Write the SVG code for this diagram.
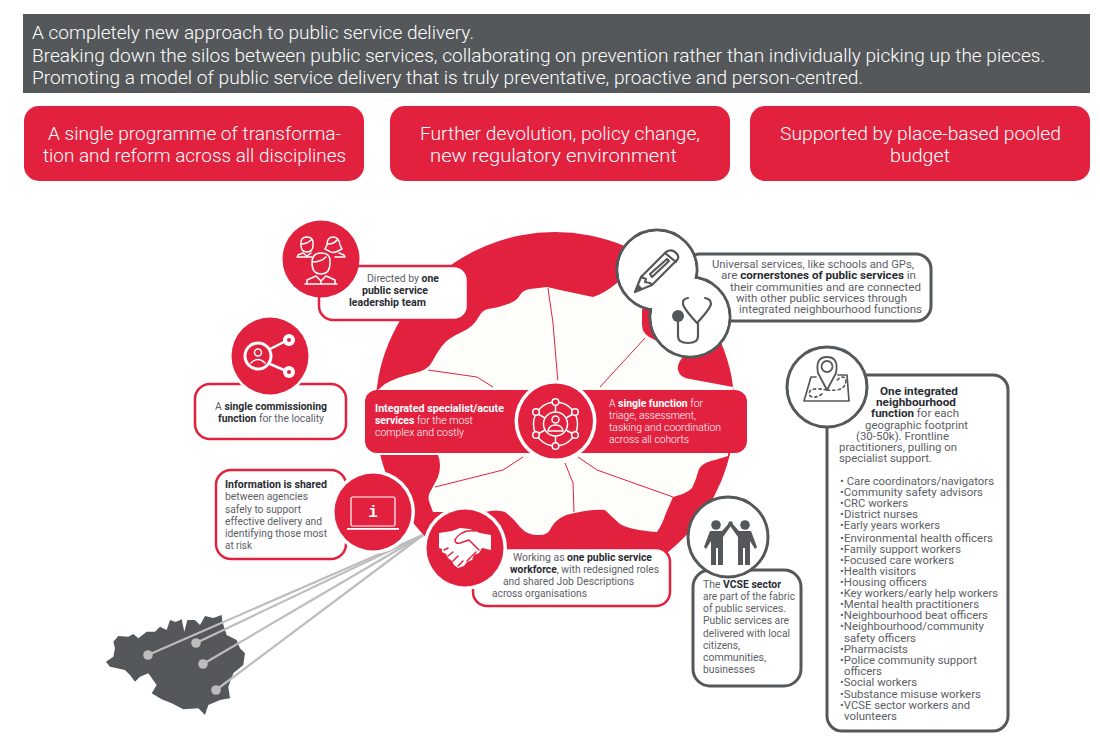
<svg xmlns="http://www.w3.org/2000/svg" width="1100" height="754" viewBox="0 0 1100 754">
<style>
text{font-family:"Roboto","Liberation Sans",sans-serif;font-weight:400;fill:#5c6066;font-size:10.5px}
.b{font-weight:700;fill:#2a2c33}
.w{fill:#fff;font-weight:300}
.wb{font-weight:700;fill:#fff}
.ban{font-size:18px;fill:#fff;font-weight:300}
.btn{font-size:19px;fill:#fff;font-weight:300}
.u{font-size:10.8px}
.m{font-size:10.5px}
.cr{fill:#fff;stroke:#e2213f;stroke-width:2.5}
.cg{fill:#fff;stroke:#54585a;stroke-width:3}
.red{fill:#e2213f}
.ic{fill:none;stroke:#fff;stroke-width:1.5;stroke-linecap:round;stroke-linejoin:round}
.ig{fill:none;stroke:#54585a;stroke-width:2.2;stroke-linecap:round;stroke-linejoin:round}
.th{fill:none;stroke:#e2213f;stroke-width:1}
.gl{stroke:#bdbdbd;stroke-width:2.2;fill:none}
</style>

<g id="banner">
<rect x="23" y="14" width="1067" height="79" fill="#54585a"/>
<text class="ban" x="32" y="39" textLength="442" lengthAdjust="spacingAndGlyphs">A completely new approach to public service delivery.</text>
<text class="ban" x="32" y="62" textLength="1013" lengthAdjust="spacingAndGlyphs">Breaking down the silos between public services, collaborating on prevention rather than individually picking up the pieces.</text>
<text class="ban" x="32" y="84" textLength="831" lengthAdjust="spacingAndGlyphs">Promoting a model of public service delivery that is truly preventative, proactive and person-centred.</text>
</g>
<g id="btn1"><rect class="red" x="24" y="106" width="340" height="75" rx="15"/>
<text class="btn" x="48" y="140" textLength="293" lengthAdjust="spacingAndGlyphs">A single programme of transforma-</text>
<text class="btn" x="43" y="162" textLength="303" lengthAdjust="spacingAndGlyphs">tion and reform across all disciplines</text></g>
<g id="btn2"><rect class="red" x="390" y="106" width="340" height="75" rx="15"/>
<text class="btn" x="420" y="140" textLength="280" lengthAdjust="spacingAndGlyphs">Further devolution, policy change,</text>
<text class="btn" x="430" y="162" textLength="247" lengthAdjust="spacingAndGlyphs">new regulatory environment</text></g>
<g id="btn3"><rect class="red" x="750" y="106" width="340" height="75" rx="15"/>
<text class="btn" x="780" y="140" textLength="281" lengthAdjust="spacingAndGlyphs">Supported by place-based pooled</text>
<text class="btn" x="890" y="162" textLength="60" lengthAdjust="spacingAndGlyphs">budget</text></g>

<g id="disc">
<circle class="red" cx="555" cy="412" r="180"/>
<path fill="#fffefb" d="M547 287 L530 289 Q523 290 520 295 Q517 301 508 304 Q497 308 488 309 Q482 310 478 318 Q473 327 462 332 Q448 338 442 346 Q436 354 432 362 Q428 370 415 373 Q397 377 385 384 L372 395 L372 455 L438 455 Q442 465 438 477 Q433 487 430 492 Q427 498 430 504 L433 512 L485 512 Q497 509 505 512 Q512 517 520 527 Q527 535 537 535 Q548 536 551 528 Q555 520 566 515 Q590 509 605 510 Q612 517 620 524 Q630 530 657 532 Q662 525 666 513 L673 497 Q688 493 692 488 Q696 480 698 472 Q700 463 715 460 L728 456 L733 387 L690 379 Q680 378 678 370 Q676 362 690 350 L655 340 Q642 335 642 325 L642 310 L650 290 Q633 283 617 283 Q605 293 593 297 L560 290 Z"/>
<path class="th" d="M548 288 L553 323 L558 383"/>
<path class="th" d="M428 370 L477 377 L493 387"/>
<path class="th" d="M645 338 L600 387"/>
<path class="th" d="M523 457 L503 470 L435 487"/>
<path class="th" d="M565 463 L573 483 L574 512"/>
<path class="th" d="M578 457 L597 470 L673 497"/>
</g>

<g id="region-map">
<path fill="#54585a" transform="translate(105 610) scale(.3333)" d="M3 155 L25 140 L30 115 L25 95 L40 78 L70 80 L85 72 L100 85 L125 65 L150 65 L165 50 L185 60 L195 30 L212 36 L230 28 L238 65 L247 30 L270 30 L285 45 L300 18 L325 24 L350 15 L352 35 L365 75 L395 90 L405 115 L420 130 L415 165 L385 190 L370 230 L375 265 L345 270 L310 285 L300 315 L280 295 L235 298 L200 280 L170 268 L140 250 L155 225 L130 190 L105 200 L90 215 L75 195 L60 180 L15 170 Z"/>
<g fill="#bdbdbd"><circle cx="148" cy="655" r="4.8"/><circle cx="196" cy="643" r="4.8"/><circle cx="203" cy="664" r="4.8"/><circle cx="216" cy="690" r="4.8"/></g>
</g>

<g id="connectors">
<path class="gl" d="M423 535 L148 655"/>
<path class="gl" d="M423 535 L196 643"/>
<path class="gl" d="M423 535 L203 664"/>
<path class="gl" d="M423 535 L216 690"/>
</g>

<g id="node-leadership">
<rect class="cr" x="319" y="266" width="149" height="54" rx="14"/>
<circle class="red" cx="321" cy="259" r="38.5"/>
<g class="ic">
<path d="M301 245 Q300 237 307 237 Q314 237 313 245 Q313 252 307 252 Q301 252 301 245 Z M301 244 Q307 244 311 240"/>
<path d="M298 257 L298 255 L303 253 L307 256 L311 253 M297 257 L312 257"/>
<path d="M327 245 Q327 237 333 237 Q339 237 340 245 L342 249 L338 251 Q333 254 329 251 L325 249 Z M328 244 Q334 244 337 240"/>
<path d="M339 253 L344 255 L345 257 L335 257"/>
<path d="M312 263 Q312 253 321 253 Q331 253 330 263 Q330 274 321 274 Q312 274 312 263 Z M312 262 Q321 262 326 257" fill="#e2213f"/>
<path d="M307 283 L307 280 L316 276 L321 281 L326 276 L335 280 L335 283 M305 284 L337 284 M321 281 L321 284"/>
</g>
<text x="367" y="282" textLength="72" lengthAdjust="spacingAndGlyphs">Directed by <tspan class="b">one</tspan></text>
<text class="b" x="362" y="294" textLength="66" lengthAdjust="spacingAndGlyphs">public service</text>
<text class="b" x="349" y="306" textLength="77" lengthAdjust="spacingAndGlyphs">leadership team</text>
</g>

<g id="node-commissioning">
<rect class="cr" x="195" y="384" width="151" height="55" rx="15"/>
<circle fill="#fff" cx="270" cy="356" r="41"/><circle class="red" cx="270" cy="356" r="38.5"/>
<g class="ic"><circle cx="258" cy="356" r="13" style="stroke-width:3"/><circle cx="258" cy="352.5" r="3.5"/><path d="M251 363 Q258 356 265 363"/><path d="M270 349 L284 342 M270 364 L284 370" style="stroke-width:2.5"/></g>
<circle cx="289" cy="340" r="6" fill="#fff"/><circle cx="289" cy="372" r="6" fill="#fff"/>
<circle cx="289" cy="340" r="2" fill="#e2213f"/><circle cx="289" cy="372" r="2" fill="#e2213f"/>
<text x="215" y="410" textLength="112" lengthAdjust="spacingAndGlyphs">A <tspan class="b">single commissioning</tspan></text>
<text x="218" y="422" textLength="106" lengthAdjust="spacingAndGlyphs"><tspan class="b">function</tspan> for the locality</text>
</g>

<g id="node-information">
<rect class="cr" x="216" y="470" width="130" height="89" rx="15"/>
<circle fill="#fff" cx="373" cy="512" r="42"/><circle class="red" cx="373" cy="512" r="38.5"/>
<rect x="351" y="497" width="44" height="29" rx="1.5" fill="none" stroke="#fff" stroke-width="1.2"/>
<rect x="347" y="528" width="52" height="1.8" fill="#fff"/>
<text x="373" y="517" text-anchor="middle" style="font-family:'Liberation Mono',monospace;font-weight:700;font-size:16px;fill:#fff">i</text>
<text class="b" x="225" y="488" textLength="102" lengthAdjust="spacingAndGlyphs">Information is shared</text>
<text x="225" y="500" textLength="83" lengthAdjust="spacingAndGlyphs">between agencies</text>
<text x="225" y="513" textLength="76" lengthAdjust="spacingAndGlyphs">safely to support</text>
<text x="225" y="525" textLength="97" lengthAdjust="spacingAndGlyphs">effective delivery and</text>
<text x="225" y="537" textLength="102" lengthAdjust="spacingAndGlyphs">identifying those most</text>
<text x="225" y="549" textLength="27" lengthAdjust="spacingAndGlyphs">at risk</text>
</g>

<g id="node-workforce">
<rect class="cr" x="473" y="548" width="197" height="58" rx="14"/>
<circle fill="#fff" cx="465" cy="548" r="42"/><circle class="red" cx="465" cy="548" r="38.5"/>
<path fill="#fff" d="M439 533 L452 531 L460 528 L470 529 L480 533 L491 535 L491 550 L482 548 L479 553 L474 555 L472 560 L467 562 L464 566 L458 568 L454 565 L452 561 L448 558 L446 554 L442 552 L442 549 L439 548 Z"/>
<path fill="none" stroke="#e2213f" stroke-width="1.5" stroke-linecap="round" stroke-linejoin="round" d="M479 550 L469 540 L460 543 Q455 544 455 540 Q456 537 462 533 Q467 530 475 531 M444 550 L448 548 M448 556 L453 552 M453 561 L458 556 M458 566 L463 561 M467 561 L471 557 M472 556 L476 552"/>
<text x="513" y="561" textLength="139" lengthAdjust="spacingAndGlyphs">Working as <tspan class="b">one public service</tspan></text>
<text x="510" y="573" textLength="149" lengthAdjust="spacingAndGlyphs"><tspan class="b">workforce</tspan>, with redesigned roles</text>
<text x="503" y="585" textLength="131" lengthAdjust="spacingAndGlyphs">and shared Job Descriptions</text>
<text x="492" y="597" textLength="95" lengthAdjust="spacingAndGlyphs">across organisations</text>
</g>

<g id="node-vcse">
<rect class="cg" x="693" y="570" width="108" height="116" rx="17"/>
<circle class="cg" cx="728" cy="537" r="40"/>
<g fill="#54585a"><circle cx="716" cy="525" r="4.8"/><circle cx="745" cy="525" r="4.8"/>
<path d="M710 531 L722 531 L731 521 L733 523 L723 537 L723 565 L718 565 L718 548 L716 548 L716 565 L711 565 L711 541 L706 549 L704 547 Z"/>
<path d="M751 531 L739 531 L730 521 L728 523 L738 537 L738 565 L743 565 L743 548 L745 548 L745 565 L750 565 L750 541 L755 549 L757 547 Z"/></g>
<text x="703" y="588" textLength="78" lengthAdjust="spacingAndGlyphs">The <tspan class="b">VCSE sector</tspan></text>
<text x="703" y="600" textLength="92" lengthAdjust="spacingAndGlyphs">are part of the fabric</text>
<text x="703" y="612" textLength="83" lengthAdjust="spacingAndGlyphs">of public services.</text>
<text x="703" y="624" textLength="86" lengthAdjust="spacingAndGlyphs">Public services are</text>
<text x="703" y="637" textLength="87" lengthAdjust="spacingAndGlyphs">delivered with local</text>
<text x="703" y="649" textLength="37" lengthAdjust="spacingAndGlyphs">citizens,</text>
<text x="703" y="661" textLength="63" lengthAdjust="spacingAndGlyphs">communities,</text>
<text x="703" y="673" textLength="52" lengthAdjust="spacingAndGlyphs">businesses</text>
</g>

<g id="node-universal">
<rect class="cg" x="685" y="254" width="246" height="67" rx="15"/>
<circle cx="657" cy="270" r="40" fill="#fff" stroke="#54585a" stroke-width="3"/>
<circle cx="690" cy="317" r="40" fill="#fff" stroke="#54585a" stroke-width="3"/>
<circle cx="657" cy="270" r="38.5" fill="#fff"/>
<circle cx="690" cy="317" r="38.5" fill="#fff"/>
<path class="ig" d="M635 292 L641 277 L666 252 Q672 248 677 254 Q680 258 676 261 L652 285 Z M665 253 L676 262 M641 277 L646 279 L645 282 L650 283 L652 285 M650 274 L667 259 L669 261 L652 277 Z"/>
<path fill="#54585a" d="M635 292 L638 284 L643 289 Z"/>
<path class="ig" d="M688 298 Q682 299 683 304 Q684 309 697 323 Q710 309 711 304 Q711 299 705 298 M698 323 L698 336 Q698 343 688 343 Q678 343 678 336 L678 320"/>
<circle cx="678" cy="316" r="6" fill="#54585a"/>
<text class="u" x="712" y="268" textLength="202" lengthAdjust="spacingAndGlyphs">Universal services, like schools and GPs,</text>
<text class="u" x="721" y="279" textLength="195" lengthAdjust="spacingAndGlyphs">are <tspan class="b">cornerstones of public services</tspan> in</text>
<text class="u" x="730" y="291" textLength="191" lengthAdjust="spacingAndGlyphs">their communities and are connected</text>
<text class="u" x="736" y="302" textLength="171" lengthAdjust="spacingAndGlyphs">with other public services through</text>
<text class="u" x="739" y="313" textLength="183" lengthAdjust="spacingAndGlyphs">integrated neighbourhood functions</text>
</g>

<g id="node-neighbourhood">
<rect class="cg" x="827" y="375" width="181" height="356" rx="15"/>
<circle class="cg" cx="827" cy="387" r="40"/>
<path class="ig" style="stroke-width:1.7" d="M816 377 L811 377 L804 401 L849 401 L847 375 L838 375"/>
<path class="ig" style="stroke-width:1.6;stroke-dasharray:2.5 3" d="M827 390 Q845 392 846 381 Q844 373 836 381 M827 390 Q806 386 810 396 Q815 399 822 394"/>
<path d="M827 390 L818 373 Q815 357 827 357 Q839 357 836 373 Z" fill="#fff" stroke="#54585a" stroke-width="1.8" stroke-linejoin="round"/>
<circle cx="827" cy="366.500" r="5.500" fill="#fff" stroke="#54585a" stroke-width="1.8"/>
<text class="m b" x="880" y="395" textLength="78" lengthAdjust="spacingAndGlyphs">One integrated</text>
<text class="m b" x="876" y="406" textLength="80" lengthAdjust="spacingAndGlyphs">neighbourhood</text>
<text class="m" x="871" y="417" textLength="88" lengthAdjust="spacingAndGlyphs"><tspan class="b">function</tspan> for each</text>
<text class="m" x="865" y="429" textLength="103" lengthAdjust="spacingAndGlyphs">geographic footprint</text>
<text class="m" x="856" y="440" textLength="93" lengthAdjust="spacingAndGlyphs">(30-50k). Frontline</text>
<text class="m" x="839" y="451" textLength="118" lengthAdjust="spacingAndGlyphs">practitioners, pulling on</text>
<text class="m" x="839" y="462" textLength="93" lengthAdjust="spacingAndGlyphs">specialist support.</text>
<text class="m" x="840" y="485" textLength="154" lengthAdjust="spacingAndGlyphs">• Care coordinators/navigators</text>
<text class="m" x="840" y="496" textLength="143" lengthAdjust="spacingAndGlyphs">•Community safety advisors</text>
<text class="m" x="840" y="507" textLength="68" lengthAdjust="spacingAndGlyphs">•CRC workers</text>
<text class="m" x="840" y="518" textLength="78" lengthAdjust="spacingAndGlyphs">•District nurses</text>
<text class="m" x="840" y="529" textLength="100" lengthAdjust="spacingAndGlyphs">•Early years workers</text>
<text class="m" x="840" y="542" textLength="153" lengthAdjust="spacingAndGlyphs">•Environmental health officers</text>
<text class="m" x="840" y="553" textLength="121" lengthAdjust="spacingAndGlyphs">•Family support workers</text>
<text class="m" x="840" y="564" textLength="114" lengthAdjust="spacingAndGlyphs">•Focused care workers</text>
<text class="m" x="840" y="575" textLength="76" lengthAdjust="spacingAndGlyphs">•Health visitors</text>
<text class="m" x="840" y="586" textLength="87" lengthAdjust="spacingAndGlyphs">•Housing officers</text>
<text class="m" x="840" y="597" textLength="158" lengthAdjust="spacingAndGlyphs">•Key workers/early help workers</text>
<text class="m" x="840" y="608" textLength="139" lengthAdjust="spacingAndGlyphs">•Mental health practitioners</text>
<text class="m" x="840" y="619" textLength="148" lengthAdjust="spacingAndGlyphs">•Neighbourhood beat officers</text>
<text class="m" x="840" y="630" textLength="144" lengthAdjust="spacingAndGlyphs">•Neighbourhood/community</text>
<text class="m" x="844" y="642" textLength="72" lengthAdjust="spacingAndGlyphs">safety officers</text>
<text class="m" x="840" y="653" textLength="68" lengthAdjust="spacingAndGlyphs">•Pharmacists</text>
<text class="m" x="840" y="664" textLength="137" lengthAdjust="spacingAndGlyphs">•Police community support</text>
<text class="m" x="844" y="675" textLength="38" lengthAdjust="spacingAndGlyphs">officers</text>
<text class="m" x="840" y="686" textLength="77" lengthAdjust="spacingAndGlyphs">•Social workers</text>
<text class="m" x="840" y="698" textLength="141" lengthAdjust="spacingAndGlyphs">•Substance misuse workers</text>
<text class="m" x="840" y="709" textLength="130" lengthAdjust="spacingAndGlyphs">•VCSE sector workers and</text>
<text class="m" x="844" y="720" textLength="53" lengthAdjust="spacingAndGlyphs">volunteers</text>
</g>

<g id="node-core">
<rect class="red" x="365" y="390" width="382" height="63" rx="12"/>
<circle cx="555.500" cy="421" r="41" fill="#fff"/>
<circle class="red" cx="555.500" cy="421" r="37.500"/>
<g class="ic">
<circle cx="555.500" cy="424" r="22"/>
<circle cx="555.500" cy="424" r="12"/><circle cx="555.500" cy="419.500" r="3.500"/><path d="M548 431 Q549 425 555.500 425 Q562 425 563 431 Z"/>
<path d="M555.500 405 L555.500 412 M555.500 436 L555.500 443 M566 418 L573 414 M566 430 L573 434 M545 418 L538 414 M545 430 L538 434"/>
<g fill="#e2213f"><circle cx="555.500" cy="402" r="3.300"/><circle cx="575" cy="412" r="3.300"/><circle cx="575" cy="435" r="3.300"/><circle cx="555.500" cy="446" r="3.300"/><circle cx="536" cy="435" r="3.300"/><circle cx="536" cy="412" r="3.300"/></g>
</g>
<text class="wb" x="375" y="412" textLength="129" lengthAdjust="spacingAndGlyphs">Integrated specialist/acute</text>
<text class="w" x="375" y="424" textLength="98" lengthAdjust="spacingAndGlyphs"><tspan class="wb">services</tspan> for the most</text>
<text class="w" x="375" y="436" textLength="89" lengthAdjust="spacingAndGlyphs">complex and costly</text>
<text class="w" x="609" y="407" textLength="94" lengthAdjust="spacingAndGlyphs">A <tspan class="wb">single function</tspan> for</text>
<text class="w" x="609" y="419" textLength="87" lengthAdjust="spacingAndGlyphs">triage, assessment,</text>
<text class="w" x="609" y="431" textLength="112" lengthAdjust="spacingAndGlyphs">tasking and coordination</text>
<text class="w" x="609" y="443" textLength="80" lengthAdjust="spacingAndGlyphs">across all cohorts</text>
</g>
</svg>
